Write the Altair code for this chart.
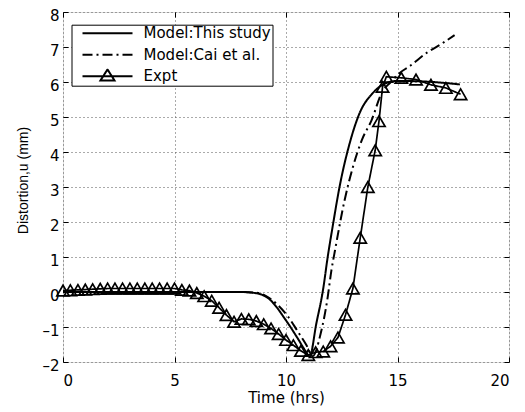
import altair as alt
import pandas as pd

# ---------------- data ----------------
series_names = ["Model:This study", "Model:Cai et al.", "Expt"]

this_x = [0.0, 2.0, 4.0, 6.0, 8.0, 8.5, 9.0, 9.3, 9.6, 9.9, 10.2, 10.5, 10.9, 11.06,
          11.36, 11.66, 11.87, 12.1, 12.4, 12.86, 13.3, 13.9, 14.5, 15.0, 16.0, 17.0, 17.8]
this_y = [0.0, 0.0, 0.0, 0.0, 0.0, -0.02, -0.1, -0.23, -0.45, -0.72, -1.0, -1.3, -1.71, -1.85,
          -0.9, 0.06, 1.0, 1.9, 3.0, 4.26, 5.11, 5.69, 5.97, 6.03, 6.02, 5.98, 5.93]

cai_x = [0.0, 4.0, 8.0, 8.7, 9.2, 9.6, 10.1, 10.5, 10.9, 11.2, 11.55, 11.85, 12.04, 12.2,
         12.63, 13.0, 13.4, 13.84, 14.29, 14.7, 15.1, 15.54, 16.3, 17.0, 17.56]
cai_y = [0.0, 0.0, 0.0, -0.02, -0.15, -0.35, -0.71, -1.1, -1.5, -1.83, -1.2, -0.23, 0.63, 1.2,
         2.63, 3.57, 4.34, 4.91, 5.69, 6.0, 6.26, 6.45, 6.83, 7.1, 7.34]

expt_x = [0.0, 0.33, 0.67, 1.0, 1.33, 1.67, 2.0, 2.33, 2.67, 3.0, 3.33, 3.67, 4.0, 4.33, 4.67, 5.0,
          5.33, 5.67, 6.0, 6.33, 6.67, 7.0, 7.33, 7.67, 8.0, 8.33, 8.67, 9.0, 9.33, 9.67, 10.0,
          10.33, 10.67, 11.0, 11.33, 11.67, 12.0, 12.33, 12.67, 13.0, 13.33, 13.67, 14.0,
          14.17, 14.33, 14.5, 15.17, 15.83, 16.5, 17.17, 17.83]
expt_y = [0.04, 0.05, 0.06, 0.07, 0.08, 0.09, 0.1, 0.1, 0.1, 0.1, 0.1, 0.1, 0.1, 0.1, 0.1, 0.1,
          0.06, 0.04, -0.03, -0.12, -0.25, -0.45, -0.66, -0.85, -0.77, -0.78, -0.83, -0.92, -1.04,
          -1.2, -1.37, -1.52, -1.68, -1.8, -1.72, -1.7, -1.55, -1.3, -0.65, 0.1, 1.55, 3.0, 4.05,
          4.88, 5.86, 6.15, 6.12, 6.07, 5.92, 5.83, 5.65]

x_ticks = [0, 5, 10, 15, 20]
y_ticks = [-2, -1, 0, 1, 2, 3, 4, 5, 6, 7, 8]

models = pd.DataFrame({
    "t": this_x + cai_x,
    "u": this_y + cai_y,
    "series": [series_names[0]] * len(this_x) + [series_names[1]] * len(cai_x),
})
expt = pd.DataFrame({"t": expt_x, "u": expt_y, "series": [series_names[2]] * len(expt_x)})

FONT = "DejaVu Sans"

xs = alt.Scale(domain=[0, 20], nice=False, zero=False)
ys = alt.Scale(domain=[-2, 8], nice=False, zero=False)

dash_scale = alt.Scale(domain=series_names, range=[[1, 0], [10, 4, 2, 4], [1, 0]])

expt_symbol = "M-1,0H1M0,-0.27L0.28,0.17L-0.28,0.17Z"
legend = alt.Legend(
    title=None, orient="none", legendX=8.5, legendY=12.7,
    symbolType={"expr": "datum.value === 'Expt' ? '" + expt_symbol + "' : 'stroke'"},
    symbolSize=2500, symbolStrokeWidth=2,
    symbolStrokeColor="black", symbolFillColor="transparent",
    symbolOffset=9, labelOffset=10, clipHeight=15,
    labelFont=FONT, labelFontSize=15, labelColor="black",
    strokeColor="black", fillColor="white", padding=1, rowPadding=5.5,
    cornerRadius=0,
)

x_axis = alt.Axis(values=x_ticks, grid=True, gridDash=[1, 3], gridColor="#555555",
                  gridWidth=1, domain=False, ticks=True, tickSize=5, offset=-5,
                  tickColor="black", labelPadding=11, labelFont=FONT, labelFontSize=15,
                  labelColor="black", title="Time (hrs)", titleFont=FONT,
                  titleFontSize=15, titleFontWeight="normal", titleColor="black",
                  titlePadding=2)
y_axis = alt.Axis(values=y_ticks, grid=True, gridDash=[1, 3], gridColor="#555555",
                  gridWidth=1, domain=False, ticks=True, tickSize=5, offset=-5,
                  tickColor="black", labelPadding=4, labelOffset=3, labelFont=FONT,
                  labelFontSize=15, labelColor="black",
                  labelExpr="replace(datum.label, '\u2212', '\u2013')",
                  title="Distortion,u (mm)", titleFont="Liberation Sans", titleFontSize=14,
                  titleFontWeight="normal", titleColor="black", titlePadding=11,
                  titleY=168)
x_top = alt.Axis(orient="top", values=x_ticks, labels=False, title=None, domain=False,
                 grid=False, tickSize=5, offset=-5, tickColor="black")
y_right = alt.Axis(orient="right", values=y_ticks, labels=False, title=None, domain=False,
                   grid=False, tickSize=5, offset=-5, tickColor="black")

model_lines = alt.Chart(models).mark_line(
    interpolate="monotone", strokeWidth=2, color="black"
).encode(
    x=alt.X("t:Q", scale=xs, axis=x_axis),
    y=alt.Y("u:Q", scale=ys, axis=y_axis),
    strokeDash=alt.StrokeDash("series:N", scale=dash_scale, legend=legend),
)

expt_line = alt.Chart(expt).mark_line(strokeWidth=1.7, color="black").encode(
    x=alt.X("t:Q", scale=xs, axis=None),
    y=alt.Y("u:Q", scale=ys, axis=None),
    strokeDash=alt.StrokeDash("series:N", scale=dash_scale, legend=legend),
)

expt_pts = alt.Chart(expt).mark_point(
    shape="triangle-up", filled=False, size=150, strokeWidth=1.7, color="black", opacity=1
).encode(
    x=alt.X("t:Q", scale=xs, axis=x_top),
    y=alt.Y("u:Q", scale=ys, axis=y_right),
)

chart = alt.layer(model_lines, expt_line, expt_pts).resolve_axis(
    x="independent", y="independent"
).properties(
    width=446, height=350,
    autosize=alt.AutoSizeParams(type="none"),
    padding={"left": 55, "top": 4, "right": 8, "bottom": 50},
).configure_view(stroke="black", strokeWidth=1.3).configure(background="white")

chart.save("out.html", embed_options={"renderer": "svg", "actions": False})
